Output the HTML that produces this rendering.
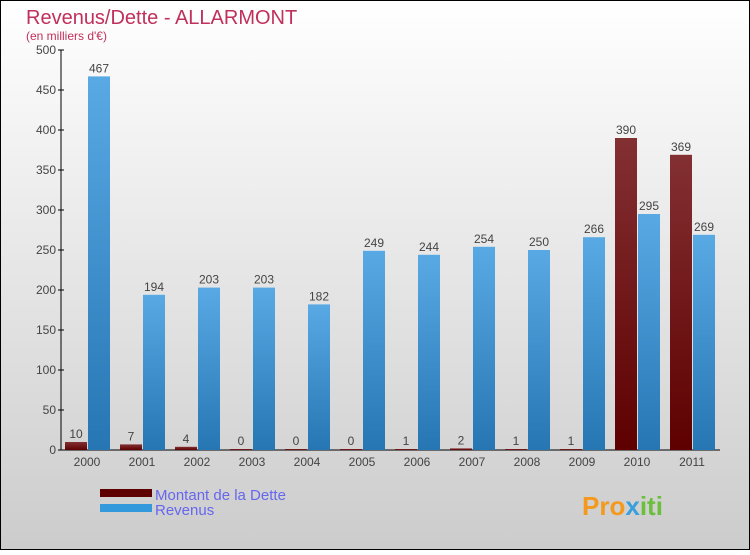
<!DOCTYPE html>
<html><head><meta charset="utf-8"><style>
body{margin:0}
svg text{font-family:"Liberation Sans",sans-serif}
</style></head><body>
<svg width="750" height="550" viewBox="0 0 750 550" xmlns="http://www.w3.org/2000/svg">
<defs>
<linearGradient id="bg" x1="0" y1="0" x2="0" y2="1"><stop offset="0" stop-color="#ffffff"/><stop offset="1" stop-color="#cccccc"/></linearGradient>
<linearGradient id="gd" x1="0" y1="0" x2="0" y2="1"><stop offset="0" stop-color="#833033"/><stop offset="1" stop-color="#5e0000"/></linearGradient>
<linearGradient id="gr" x1="0" y1="0" x2="0" y2="1"><stop offset="0" stop-color="#58a9e4"/><stop offset="1" stop-color="#2676b3"/></linearGradient>
</defs>
<rect x="0.5" y="0.5" width="749" height="549" fill="url(#bg)" stroke="#000"/>
<text x="26" y="24" font-size="20" fill="#c0305c">Revenus/Dette - ALLARMONT</text>
<text x="26" y="40" font-size="12" fill="#c0305c">(en milliers d'€)</text>
<g id="axes"></g>
<g id="bars"></g>
<g>
<rect x="100" y="489" width="52" height="8" fill="#5e0000"/>
<text x="155" y="500" font-size="15" fill="#6666ee">Montant de la Dette</text>
<rect x="100" y="504" width="52" height="8" fill="#3399dd"/>
<text x="155" y="515" font-size="15" fill="#6666ee">Revenus</text>
</g>
<text x="582" y="515" font-size="26" font-weight="bold" fill="#f39a1e">Pro<tspan fill="#3aa0dd">x</tspan><tspan fill="#6cbf3c">iti</tspan></text>
</svg>
<script>
const years=["2000","2001","2002","2003","2004","2005","2006","2007","2008","2009","2010","2011"];
const dette=[10,7,4,0,0,0,1,2,1,1,390,369];
const revenus=[467,194,203,203,182,249,244,254,250,266,295,269];
const ticks=[0,50,100,150,200,250,300,350,400,450,500];
const NS="http://www.w3.org/2000/svg";
const y0=450,yTop=50,vmax=500,left0=65,step=55,bw=22;
const yS=v=>y0-(v/vmax)*(y0-yTop);
function mk(t,a,p){const e=document.createElementNS(NS,t);for(const k in a)e.setAttribute(k,a[k]);p.appendChild(e);return e;}
const ax=document.getElementById('axes'),bg=document.getElementById('bars');
const yl=mk('line',{x1:61,y1:yTop,x2:61,y2:y0,stroke:'#000'},ax);


const xl=mk('line',{x1:61,y1:y0,x2:720,y2:y0,stroke:'#000'},ax);


ticks.forEach(t=>{
 const l=mk('line',{x1:58,y1:yS(t),x2:64,y2:yS(t),stroke:'#000'},ax);
 
 
 const tx=mk('text',{x:56,y:yS(t)+4,'font-size':12,fill:'#444','text-anchor':'end'},ax);
 tx.textContent=t;
 
 
});
years.forEach((yr,i)=>{
 const gx=left0+i*step;
 const tx=mk('text',{x:gx+22,y:466,'font-size':12,fill:'#444','text-anchor':'middle'},ax);
 tx.textContent=yr;
 
 
 const hd=Math.max(y0-yS(dette[i]),1);
 const bd=mk('rect',{x:gx,y:y0-hd,width:bw,height:hd,fill:'url(#gd)'},bg);
 
 
 const ld=mk('text',{x:gx+bw/2,y:y0-hd-4,'font-size':12,fill:'#444','text-anchor':'middle'},bg);
 ld.textContent=dette[i];
 
 
 const hr=y0-yS(revenus[i]);
 const br=mk('rect',{x:gx+23,y:y0-hr,width:bw,height:hr,fill:'url(#gr)'},bg);
 
 
 const lr=mk('text',{x:gx+23+bw/2,y:y0-hr-4,'font-size':12,fill:'#444','text-anchor':'middle'},bg);
 lr.textContent=revenus[i];
 
 
});
</script>
</body></html>
